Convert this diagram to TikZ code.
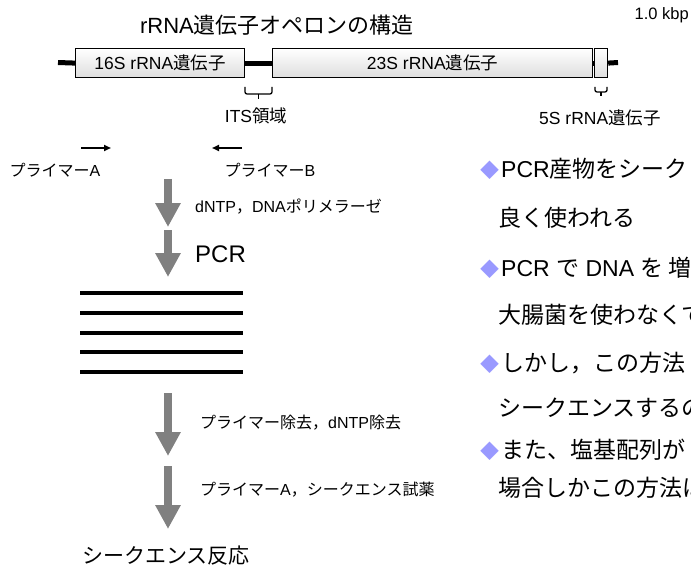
\documentclass[tikz,border=0pt]{standalone}
\usepackage{fontspec}
\setmainfont{Liberation Sans}
\newfontfamily\jp{Noto Sans CJK JP}
\usetikzlibrary{arrows.meta}
\definecolor{diam}{RGB}{153,153,255}
\definecolor{garrow}{RGB}{128,128,128}
\newcommand{\bulletmark}{{\fontsize{19}{20}\selectfont\jp\color{diam}◆}\kern2pt}
\begin{document}
\begin{tikzpicture}[x=1pt,y=-1pt,
  gene/.style={draw=black,line width=1.2pt,top color=white,bottom color=black!13,inner sep=0pt,minimum height=29pt,anchor=north west,font=\fontsize{17.5}{20}\selectfont},
  backbone/.style={line width=5pt},
  lbl/.style={inner sep=0pt,font=\fontsize{17.5}{20}\selectfont},
  procl/.style={inner sep=0pt,anchor=base west,font=\fontsize{16}{19}\selectfont},
  bigarrow/.style={draw=garrow,line width=8pt,-{Triangle[width=24pt,length=24pt]}},
  primer/.style={line width=2pt,-{Triangle[width=6pt,length=7pt]}},
  bracepath/.style={line width=1.3pt,rounded corners=2pt},
  product/.style={line width=4pt},
  bullettext/.style={inner sep=0pt,anchor=base west,font=\fontsize{23}{26}\selectfont},
]
\useasboundingbox (0,0) rectangle (691,567);
\clip (0,0) rectangle (691,567);

% title
\node[inner sep=0pt,anchor=base,font=\fontsize{22}{26}\selectfont] (title) at (277,33.5) {rRNA{\jp 遺伝子オペロンの構造}};
\node[inner sep=0pt,anchor=base east,font=\fontsize{16.5}{19}\selectfont] (kbp) at (689,20) {1.0 kbp};

% operon
\coordinate (bbL) at (58,62.5);
\coordinate (bbR) at (618,62.5);
\node[gene,minimum width=169pt] (g16) at (75,48) {16S rRNA{\jp 遺伝子}};
\node[gene,minimum width=320pt] (g23) at (272,48) {23S rRNA{\jp 遺伝子}};
\node[gene,minimum width=13pt] (g5) at (594,48) {};
\draw[backbone] (bbL) -- (g16.west);
\draw[backbone] (g16.east) -- (g23.west);
\draw[backbone] (g23.east) -- (g5.west);
\draw[backbone] (g5.east) -- (bbR);

% braces
\coordinate (itsL) at (245,87);
\coordinate (itsR) at (272,87);
\coordinate (itsM) at (258.5,94);
\coordinate (itsT) at (258.5,99);
\draw[bracepath] (itsL) |- (itsM) -| (itsR);
\draw[line width=1.3pt] (itsM) -- (itsT);
\coordinate (fsL) at (595,87);
\coordinate (fsR) at (607,87);
\coordinate (fsM) at (601,92);
\coordinate (fsT) at (601,96);
\draw[bracepath] (fsL) |- (fsM) -| (fsR);
\draw[line width=1.3pt] (fsM) -- (fsT);
\node[lbl,anchor=base] (its) at (256,123) {ITS{\jp 領域}};
\node[lbl,anchor=base] (s5) at (600,125) {5S rRNA{\jp 遺伝子}};

% primers
\coordinate (pa0) at (81,148);
\coordinate (pa1) at (111,148);
\coordinate (pb0) at (242,148);
\coordinate (pb1) at (212,148);
\draw[primer] (pa0) -- (pa1);
\draw[primer] (pb0) -- (pb1);
\node[procl,anchor=base] (pA) at (55,177) {{\jp プライマー}A};
\node[procl,anchor=base] (pB) at (270,177) {{\jp プライマー}B};

% process arrows
\coordinate (a1s) at (168,179); \coordinate (a1e) at (168,227);
\coordinate (a2s) at (168,230); \coordinate (a2e) at (168,277);
\coordinate (a3s) at (168,393); \coordinate (a3e) at (168,456);
\coordinate (a4s) at (168,466); \coordinate (a4e) at (168,529);
\draw[bigarrow] (a1s) -- (a1e);
\draw[bigarrow] (a2s) -- (a2e);
\draw[bigarrow] (a3s) -- (a3e);
\draw[bigarrow] (a4s) -- (a4e);

\node[procl] (l1) at (195,212) {dNTP{\jp ，}DNA{\jp ポリメラーゼ}};
\node[procl,font=\fontsize{24}{28}\selectfont] (l2) at (195,262) {PCR};
\node[procl] (l3) at (200,428) {{\jp プライマー除去，}dNTP{\jp 除去}};
\node[procl] (l4) at (200,495) {{\jp プライマー}A{\jp ，シークエンス試薬}};
\node[inner sep=0pt,anchor=west,font=\fontsize{21}{25}\selectfont\jp] (res) at (82,556) {シークエンス反応};

% PCR products
\foreach \yy in {293,313,333,352,372}
  \draw[product] (80,\yy) -- (243,\yy);

% right text
\node[bullettext] (t1) at (480,178) {\bulletmark PCR{\jp 産物をシーク}};
\node[bullettext] (t2) at (498,226) {{\jp 良く使われる}};
\node[bullettext] (t3) at (480,276) {\bulletmark PCR {\jp で} DNA {\jp を 増幅}};
\node[bullettext] (t4) at (498,323) {{\jp 大腸菌を使わなくて}};
\node[bullettext] (t5) at (480,371) {\bulletmark{\jp しかし，この方法}};
\node[bullettext] (t6) at (498,416) {{\jp シークエンスするの}};
\node[bullettext] (t7) at (480,458) {\bulletmark{\jp また、塩基配列が}};
\node[bullettext] (t8) at (498,496) {{\jp 場合しかこの方法は}};
\end{tikzpicture}
\end{document}
